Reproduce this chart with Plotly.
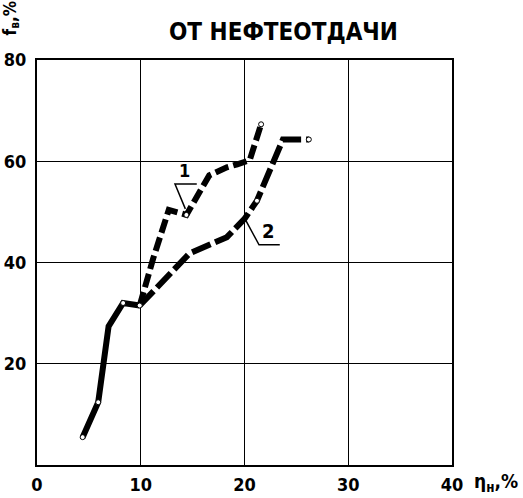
import plotly.graph_objects as go

# Shared lower part of both curves
x_common = [4.4, 5.9, 6.9, 8.3, 9.9]
y_common = [5.5, 12.4, 27.4, 32.0, 31.5]

# Curve 1
x1 = [9.9, 11.2, 12.7, 14.4, 16.6, 18.3, 19.3, 20.5, 21.6]
y1 = [31.5, 40.8, 50.4, 49.4, 57.2, 58.8, 59.4, 60.2, 67.3]

# Curve 2
x2 = [9.9, 14.7, 18.3, 20.0, 21.2, 23.7, 26.2]
y2 = [31.5, 41.8, 45.0, 48.6, 52.2, 64.3, 64.3]

x_ticks = [0, 10, 20, 30, 40]
y_ticks = [20, 40, 60, 80]

title_text = "ОТ НЕФТЕОТДАЧИ"
x_label = "η<sub>н</sub>,%"
y_label = "f<sub>в</sub>,%"

FONT = "DejaVu Sans Condensed, Liberation Sans Narrow, sans-serif"
LW = 6

fig = go.Figure()
fig.add_trace(go.Scatter(x=x_common, y=y_common, mode="lines",
                         line=dict(color="black", width=LW), hoverinfo="skip"))
fig.add_trace(go.Scatter(x=x1, y=y1, mode="lines",
                         line=dict(color="black", width=LW, dash="14px,5px"), hoverinfo="skip"))
fig.add_trace(go.Scatter(x=x2, y=y2, mode="lines",
                         line=dict(color="black", width=LW, dash="20px,5px"), hoverinfo="skip"))
mx = [x_common[0], x_common[1], x_common[3], x_common[4], x1[3], x1[-1], x2[4], x2[-1]]
my = [y_common[0], y_common[1], y_common[3], y_common[4], y1[3], y1[-1], y2[4], y2[-1]]
fig.add_trace(go.Scatter(x=mx, y=my, mode="markers",
                         marker=dict(size=5, color="white", line=dict(color="black", width=1)),
                         hoverinfo="skip"))

# leader lines for labels 1 and 2
fig.add_shape(type="path", path="M 15.4 55.5 L 13.3 55.5 L 14.3 50.6",
              line=dict(color="black", width=1.5), xref="x", yref="y")
fig.add_shape(type="path", path="M 23.4 43.5 L 21.4 43.5 L 20.1 48.4",
              line=dict(color="black", width=1.5), xref="x", yref="y")
fig.add_annotation(x=14.2, y=58.2, text="1", showarrow=False,
                   font=dict(family=FONT, size=18, color="black", weight="bold"))
fig.add_annotation(x=22.3, y=46.2, text="2", showarrow=False,
                   font=dict(family=FONT, size=20, color="black", weight="bold"))

# title and axis labels (paper coordinates; plot area is 415 x 405 px)
fig.add_annotation(text=title_text, x=(283 - 37) / 415, y=1 + (60 - 32) / 405,
                   xref="paper", yref="paper", xanchor="center", yanchor="middle",
                   showarrow=False, font=dict(family=FONT, size=24, color="black", weight="bold"))
fig.add_annotation(text=x_label, x=1.0, y=0, xref="paper", yref="paper",
                   xanchor="left", yanchor="top", xshift=20, yshift=-3, showarrow=False,
                   font=dict(family=FONT, size=19, color="black", weight="bold"))
fig.add_annotation(text=y_label, x=0, y=1, xref="paper", yref="paper",
                   xanchor="center", yanchor="bottom", xshift=-26, yshift=22, textangle=-90,
                   showarrow=False,
                   font=dict(family=FONT, size=17, color="black", weight="bold"))

fig.update_layout(
    width=523, height=498,
    margin=dict(l=37, r=71, t=60, b=33),
    paper_bgcolor="white", plot_bgcolor="white",
    showlegend=False,
    xaxis=dict(range=[0, 40], tickvals=x_ticks, showgrid=True, gridcolor="black", gridwidth=1,
               showline=True, linecolor="black", linewidth=2, mirror=True, zeroline=False,
               ticks="", ticklabelstandoff=2, automargin=False,
               tickfont=dict(family=FONT, size=18, color="black", weight="bold")),
    yaxis=dict(range=[0, 80], tickvals=y_ticks, showgrid=True, gridcolor="black", gridwidth=1,
               showline=True, linecolor="black", linewidth=2, mirror=True, zeroline=False,
               ticks="", ticklabelstandoff=5, automargin=False,
               tickfont=dict(family=FONT, size=18, color="black", weight="bold")),
)
fig.write_html("out.html", config={"displayModeBar": False},
               post_script="document.body.style.margin='0';")
